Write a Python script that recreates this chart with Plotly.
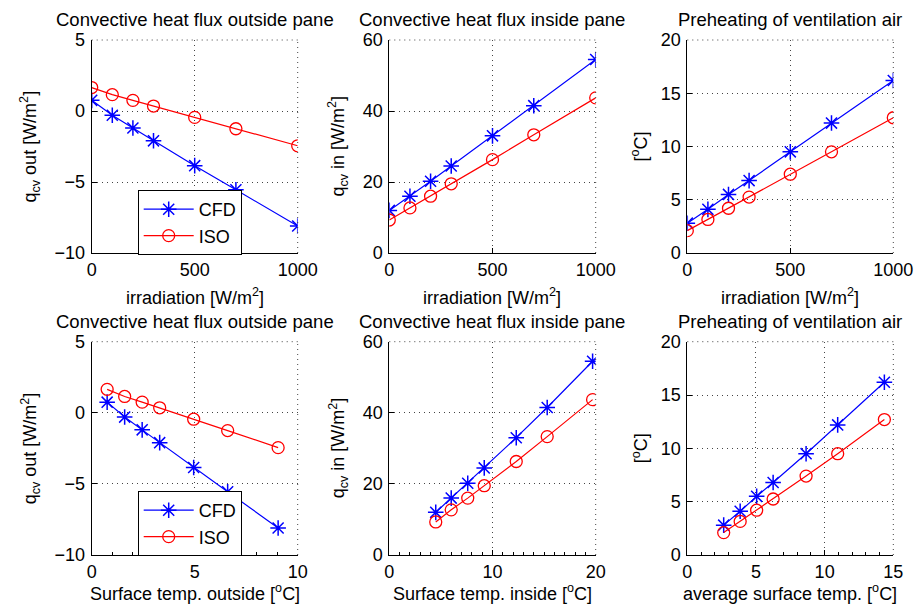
import plotly.graph_objects as go

irradiation = [0, 100, 200, 300, 500, 700, 1000]
t_surf_out = [0.75, 1.6, 2.45, 3.3, 4.95, 6.6, 9.05]
t_surf_in = [4.5, 6.0, 7.6, 9.2, 12.3, 15.3, 19.7]
t_surf_avg = [2.65, 3.85, 5.05, 6.25, 8.65, 10.95, 14.35]

qout_cfd = [0.75, -0.3, -1.2, -2.1, -3.85, -5.55, -8.1]
qout_iso = [1.65, 1.15, 0.75, 0.35, -0.45, -1.25, -2.45]
qin_cfd = [12.0, 16.0, 20.2, 24.5, 33.0, 41.5, 54.5]
qin_iso = [9.3, 12.7, 16.0, 19.5, 26.3, 33.3, 43.7]
pre_cfd = [2.8, 4.1, 5.5, 6.8, 9.5, 12.2, 16.2]
pre_iso = [2.1, 3.15, 4.2, 5.25, 7.4, 9.5, 12.7]

titles = ["Convective heat flux outside pane", "Convective heat flux inside pane",
          "Preheating of ventilation air"]
xlabel_top = "irradiation [W/m<sup>2</sup>]"
xlabels_bot = ["Surface temp. outside [<sup>o</sup>C]", "Surface temp. inside [<sup>o</sup>C]",
               "average surface temp. [<sup>o</sup>C]"]
ylabels = ["q<sub>cv</sub> out [W/m<sup>2</sup>]", "q<sub>cv</sub> in [W/m<sup>2</sup>]",
           "[<sup>o</sup>C]"]

W, H = 917, 608
FONT = "Liberation Sans, Arial, Helvetica, sans-serif"
FS = 18

xpix = [(91.7, 297.7), (389.3, 595.7), (687.3, 893.3)]
ypix = [(40, 253), (341.7, 555)]
xdom = [(a / W, b / W) for a, b in xpix]
ydom = [(1 - b / H, 1 - a / H) for a, b in ypix]
ylabel_x = [30, 338, 640]

fig = go.Figure()

series = [
    (irradiation, qout_cfd, qout_iso),
    (irradiation, qin_cfd, qin_iso),
    (irradiation, pre_cfd, pre_iso),
    (t_surf_out, qout_cfd, qout_iso),
    (t_surf_in, qin_cfd, qin_iso),
    (t_surf_avg, pre_cfd, pre_iso),
]
xranges = [[0, 1000], [0, 1000], [0, 1000], [0, 10], [0, 20], [0, 15]]
xdticks = [500, 500, 500, 5, 10, 5]
yranges = [[-10, 5], [0, 60], [0, 20]]
ydticks = [5, 20, 5]

GRIDDASH = "1px,4px"
GRIDCOLOR = "#444444"

for i, (xs, cfd, iso) in enumerate(series):
    row, col = divmod(i, 3)
    n = i + 1
    xa = "x" if n == 1 else f"x{n}"
    ya = "y" if n == 1 else f"y{n}"
    leg = "legend2" if i == 3 else "legend"
    show = i in (0, 3)
    fig.add_trace(go.Scatter(
        x=xs, y=cfd, mode="lines+markers", name="CFD",
        line=dict(color="#0000ff", width=1.2),
        marker=dict(symbol="asterisk-open", size=13, color="#0000ff",
                    line=dict(color="#0000ff", width=1.5)),
        xaxis=xa, yaxis=ya, showlegend=show, legend=leg))
    fig.add_trace(go.Scatter(
        x=xs, y=iso, mode="lines+markers", name="ISO",
        line=dict(color="#ff0000", width=1.2),
        marker=dict(symbol="circle-open", size=12, color="#ff0000",
                    line=dict(color="#ff0000", width=1.3)),
        xaxis=xa, yaxis=ya, showlegend=show, legend=leg))

    axcommon = dict(showline=True, linecolor="black", linewidth=1, mirror=False,
                    ticks="inside", ticklen=5, tickcolor="black", automargin=False,
                    showgrid=True, gridcolor=GRIDCOLOR, griddash=GRIDDASH, gridwidth=1,
                    zeroline=False, tickfont=dict(family=FONT, size=FS, color="black"))
    xkw = dict(axcommon, domain=list(xdom[col]), range=xranges[i], dtick=xdticks[i],
               tick0=0, anchor=ya)
    if row == 1:
        xkw["minor"] = dict(ticks="inside", ticklen=3, dtick=1, tickcolor="black",
                            showgrid=False)
    ykw = dict(axcommon, domain=list(ydom[row]), range=yranges[col], dtick=ydticks[col],
               tick0=0, anchor=xa, ticklabelstandoff=2)
    fig.layout["xaxis" if n == 1 else f"xaxis{n}"] = xkw
    fig.layout["yaxis" if n == 1 else f"yaxis{n}"] = ykw

    # dotted top and right frame edges (grid lines at the edge ticks)
    xd = f"{xa} domain"
    yd = f"{ya} domain"
    fig.add_shape(type="line", xref=xd, yref=yd, x0=0, x1=1, y0=1, y1=1,
                  line=dict(color=GRIDCOLOR, width=1, dash=GRIDDASH))
    fig.add_shape(type="line", xref=xd, yref=yd, x0=1, x1=1, y0=0, y1=1,
                  line=dict(color=GRIDCOLOR, width=1, dash=GRIDDASH))

    xc = (xdom[col][0] + xdom[col][1]) / 2
    # subplot title
    fig.add_annotation(text=titles[col], xref="paper", yref="paper",
                       x=xc, y=ydom[row][1] + 8 / H,
                       xanchor="center", yanchor="bottom", showarrow=False,
                       font=dict(family=FONT, size=18.5, color="black"))
    # x-axis label
    xlab = xlabel_top if row == 0 else xlabels_bot[col]
    off = 43 if row == 0 else 37
    fig.add_annotation(text=xlab, xref="paper", yref="paper",
                       x=xc, y=ydom[row][0] - off / H,
                       xanchor="center", yanchor="middle", showarrow=False,
                       font=dict(family=FONT, size=FS, color="black"))
    # y-axis label
    fig.add_annotation(text=ylabels[col], xref="paper", yref="paper",
                       x=ylabel_x[col] / W, y=(ydom[row][0] + ydom[row][1]) / 2,
                       xanchor="center", yanchor="middle", textangle=-90,
                       showarrow=False,
                       font=dict(family=FONT, size=FS, color="black"))

legcommon = dict(bgcolor="white", bordercolor="black", borderwidth=1,
                 font=dict(family=FONT, size=FS, color="black"),
                 xanchor="left", yanchor="top", itemwidth=50, tracegroupgap=0)
fig.update_layout(
    width=W, height=H, margin=dict(l=0, r=0, t=0, b=0),
    paper_bgcolor="white", plot_bgcolor="white",
    font=dict(family=FONT, color="black"),
    legend=dict(legcommon, x=137.7 / W, y=1 - 190 / H),
    legend2=dict(legcommon, x=137.7 / W, y=1 - 491 / H),
)

fig.write_html("out.html",
               config={"displayModeBar": False},
               post_script="document.body.style.margin='0';"
                           "document.body.style.overflow='hidden';")
